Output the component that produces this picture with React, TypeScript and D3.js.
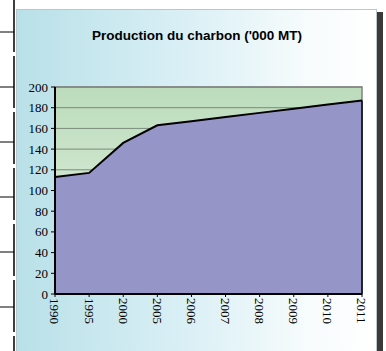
import * as d3 from "d3";

const years = ["1990", "1995", "2000", "2005", "2006", "2007", "2008", "2009", "2010", "2011"];
const production = [113, 117, 146, 163, 167, 171, 175, 179, 183, 187];
const yTicks = [0, 20, 40, 60, 80, 100, 120, 140, 160, 180, 200];
const title = "Production du charbon ('000 MT)";

// left-hand table edge remnants
const tableRows = [32, 87, 142, 197, 252, 307];

const W = 386;
const H = 351;
const plot = { left: 55, right: 362, top: 87, bottom: 294 };

export default function App() {
  const x = d3.scalePoint<string>().domain(years).range([plot.left, plot.right]);
  const y = d3.scaleLinear().domain([0, 200]).range([plot.bottom, plot.top]);

  const data = years.map((yr, i) => ({ yr, v: production[i] }));

  const area = d3
    .area<{ yr: string; v: number }>()
    .x((d) => x(d.yr)!)
    .y0(y(0))
    .y1((d) => y(d.v));
  const line = d3
    .line<{ yr: string; v: number }>()
    .x((d) => x(d.yr)!)
    .y((d) => y(d.v));

  return (
    <svg
      width={W}
      height={H}
      style={{ position: "absolute", left: 0, top: 0, background: "#fff" }}
    >
      <defs>
        <linearGradient id="bg" x1="0" x2="1" y1="0" y2="0">
          <stop offset="0" stopColor="#b9e0e8" />
          <stop offset="0.45" stopColor="#d8eff5" />
          <stop offset="0.8" stopColor="#f6fbfc" />
          <stop offset="1" stopColor="#ffffff" />
        </linearGradient>
        <linearGradient id="plotbg" x1="0" x2="0" y1="0" y2="1">
          <stop offset="0" stopColor="#bcdcbc" />
          <stop offset="1" stopColor="#e4f2e4" />
        </linearGradient>
      </defs>

      {/* table edge on the left */}
      <line x1={14} x2={14} y1={0} y2={H} stroke="#000" strokeWidth={1.5} strokeDasharray="52 4" />
      {tableRows.map((r) => (
        <line key={r} x1={0} x2={14} y1={r} y2={r} stroke="#000" strokeWidth={1} />
      ))}

      {/* chart frame + shadow */}
      <rect x={377} y={12} width={6} height={H - 12} fill="#3a3a3a" />
      <rect x={16.5} y={9.5} width={360} height={H} fill="url(#bg)" stroke="#b8c8cc" />

      <text
        x={197}
        y={40}
        textAnchor="middle"
        fontFamily="'Liberation Sans', Arial, sans-serif"
        fontWeight="bold"
        fontSize={13.5}
        fill="#000"
      >
        {title}
      </text>

      {/* plot area */}
      <rect
        x={plot.left}
        y={plot.top}
        width={plot.right - plot.left}
        height={plot.bottom - plot.top}
        fill="url(#plotbg)"
      />
      {yTicks.slice(1).map((t) => (
        <line key={t} x1={plot.left} x2={plot.right} y1={y(t)} y2={y(t)} stroke="#7a8a7a" strokeWidth={1} />
      ))}
      <path d={area(data)!} fill="#9595c8" />
      <rect
        x={plot.left}
        y={plot.top}
        width={plot.right - plot.left}
        height={plot.bottom - plot.top}
        fill="none"
        stroke="#808080"
        strokeWidth={1.5}
      />
      <path d={line(data)!} fill="none" stroke="#000" strokeWidth={2} />
      <line x1={plot.right} x2={plot.right} y1={y(production[production.length - 1])} y2={plot.bottom} stroke="#000" strokeWidth={1.5} />

      {/* axes */}
      <line x1={plot.left} x2={plot.left} y1={plot.top} y2={plot.bottom} stroke="#000" strokeWidth={2} />
      <line x1={plot.left} x2={plot.right} y1={plot.bottom} y2={plot.bottom} stroke="#000" strokeWidth={2} />
      {yTicks.map((t) => (
        <g key={t}>
          <line x1={plot.left - 4} x2={plot.left} y1={y(t)} y2={y(t)} stroke="#000" />
          <text
            x={48}
            y={y(t)}
            dy="0.35em"
            textAnchor="end"
            fontFamily="'Liberation Serif', 'Times New Roman', serif"
            fontSize={13}
            fill="#000"
          >
            {t}
          </text>
        </g>
      ))}
      {years.map((yr) => (
        <g key={yr}>
          <line x1={x(yr)!} x2={x(yr)!} y1={plot.bottom} y2={plot.bottom + 3} stroke="#000" />
          <text
            transform={`translate(${x(yr)},${plot.bottom + 4}) rotate(90)`}
            dy="0.35em"
            textAnchor="start"
            fontFamily="'Liberation Serif', 'Times New Roman', serif"
            fontSize={13}
            fill="#000"
          >
            {yr}
          </text>
        </g>
      ))}
    </svg>
  );
}
